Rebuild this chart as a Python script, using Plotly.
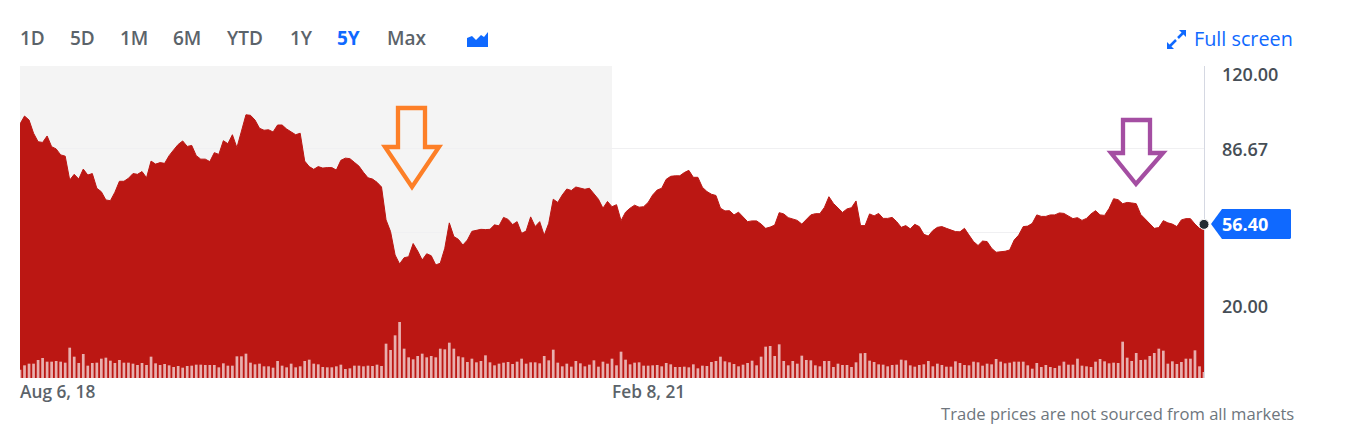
import pandas as pd
import plotly.graph_objects as go

# Weekly closing prices
prices = [
    96.7, 99.9, 98.3, 93.0, 89.6, 89.3, 91.9, 87.6, 86.7, 84.3,
    83.8, 74.2, 76.5, 74.6, 78.6, 76.2, 76.8, 70.9, 69.5, 66.2,
    65.9, 69.3, 73.7, 73.7, 74.9, 76.8, 76.5, 77.6, 75.1, 81.8,
    80.6, 81.2, 80.9, 84.0, 86.3, 88.5, 89.9, 87.7, 88.1, 84.0,
    82.6, 82.6, 81.6, 85.2, 84.5, 90.0, 88.8, 92.4, 87.2, 93.6,
    100.4, 100.2, 98.3, 95.0, 94.2, 94.4, 93.5, 96.3, 96.3, 94.7,
    93.5, 92.4, 93.0, 81.8, 79.6, 78.5, 79.6, 79.0, 79.2, 79.2,
    78.2, 82.1, 83.0, 82.8, 81.3, 79.8, 77.3, 75.1, 74.6, 73.3,
    71.4, 58.2, 53.5, 44.1, 40.5, 43.0, 43.4, 48.7, 45.7, 42.1,
    44.6, 43.8, 40.1, 40.8, 46.8, 57.0, 51.5, 50.4, 48.1, 50.1,
    53.6, 53.9, 54.4, 54.3, 54.4, 56.2, 55.8, 59.2, 58.4, 56.3,
    57.5, 52.8, 53.7, 59.4, 55.5, 57.5, 52.0, 56.8, 66.5, 65.2,
    68.2, 70.6, 70.0, 71.4, 70.8, 70.5, 70.9, 68.9, 66.5, 62.9,
    65.6, 63.5, 64.3, 57.9, 61.3, 62.9, 64.1, 63.3, 63.5, 65.2,
    68.2, 70.2, 70.9, 74.5, 75.7, 75.9, 75.9, 77.2, 78.1, 75.3,
    75.3, 71.3, 69.6, 68.5, 68.0, 62.9, 61.8, 61.9, 60.2, 61.3,
    59.5, 57.5, 57.8, 57.8, 56.5, 54.8, 55.3, 56.1, 61.1, 60.6,
    59.1, 58.4, 58.0, 56.5, 58.4, 60.2, 60.7, 60.7, 63.2, 67.5,
    64.8, 62.9, 61.2, 62.6, 63.1, 65.8, 55.9, 55.9, 60.6, 59.8,
    60.8, 58.8, 58.8, 59.2, 57.5, 55.2, 55.9, 54.6, 56.4, 55.5,
    52.4, 51.7, 53.9, 55.2, 55.5, 54.8, 54.3, 53.5, 53.4, 54.8,
    52.1, 49.5, 47.9, 49.7, 49.5, 46.8, 45.2, 45.3, 45.6, 46.1,
    50.1, 52.1, 55.5, 55.7, 56.8, 60.2, 59.6, 59.6, 60.2, 60.2,
    61.0, 60.8, 59.6, 58.7, 59.1, 58.0, 58.8, 60.6, 61.9, 60.2,
    60.0, 62.8, 66.7, 66.3, 64.7, 65.2, 65.0, 64.7, 60.4, 58.4,
    56.5, 54.8, 55.1, 57.9, 57.0, 56.5, 55.5, 58.2, 58.7, 58.7,
    56.5, 54.8, 56.4,
]

# Weekly volume (relative units)
volumes = [
    25, 38, 43, 43, 54, 60, 49, 49, 51, 49,
    46, 91, 64, 45, 72, 37, 45, 46, 58, 61,
    52, 45, 54, 46, 46, 43, 39, 45, 39, 64,
    44, 39, 42, 38, 33, 36, 31, 36, 37, 40,
    40, 39, 39, 39, 32, 44, 37, 37, 65, 65,
    73, 46, 41, 43, 35, 35, 31, 51, 37, 32,
    43, 32, 35, 51, 55, 43, 41, 33, 32, 32,
    35, 40, 27, 29, 37, 37, 35, 37, 36, 40,
    36, 103, 84, 128, 168, 88, 62, 56, 66, 73,
    62, 66, 62, 88, 86, 106, 88, 65, 62, 48,
    58, 47, 51, 68, 47, 38, 43, 46, 48, 42,
    49, 58, 43, 47, 47, 44, 66, 53, 85, 46,
    35, 43, 34, 51, 44, 35, 40, 53, 34, 49,
    43, 58, 38, 79, 55, 41, 46, 47, 37, 37,
    38, 39, 35, 45, 41, 33, 33, 34, 32, 41,
    29, 37, 36, 48, 51, 64, 50, 47, 42, 35,
    40, 45, 52, 38, 64, 94, 96, 66, 101, 51,
    38, 51, 43, 67, 54, 53, 38, 35, 51, 51,
    33, 43, 39, 39, 33, 47, 74, 75, 52, 48,
    41, 40, 35, 39, 40, 55, 53, 38, 34, 39,
    41, 51, 35, 43, 39, 34, 34, 50, 45, 39,
    38, 49, 47, 37, 43, 41, 57, 49, 44, 46,
    49, 49, 49, 38, 28, 45, 33, 39, 33, 30,
    37, 49, 40, 40, 58, 37, 35, 33, 49, 57,
    50, 44, 46, 45, 109, 61, 51, 75, 54, 55,
    66, 75, 88, 82, 43, 50, 42, 48, 58, 58,
    83, 35, 18,
]

assert len(prices) == len(volumes), (len(prices), len(volumes))

dates = pd.date_range("2018-08-06", periods=len(prices), freq="7D")
split_date = "2021-02-08"

range_labels = ["1D", "5D", "1M", "6M", "YTD", "1Y", "5Y", "Max"]
range_label_x = [20, 70, 120, 173, 227, 290, 337, 387]
price_ticks = [120, 86.67, 53.33, 20]

FONT = "Open Sans"
BLUE = "#0f69ff"
GREY = "#5b636a"
RED = "#bb1713"

# Pixel box of the plot area in the 1347x437 page
LEFT, RIGHT, TOP, BOTTOM = 20, 1204, 66, 378
Y_MAX = 120
Y_MIN = 120 - (BOTTOM - TOP) / 2.49


def px(x):
    return (x - LEFT) / (RIGHT - LEFT)


def py(y):
    return (BOTTOM - y) / (BOTTOM - TOP)


def path(points, close=True):
    d = "M " + " L ".join(f"{px(x)} {py(y)}" for x, y in points)
    return d + (" Z" if close else "")


def label(x, y, text, size=18, color=GREY, weight=600, anchor="left"):
    # annotations pad their text by about 2px
    nudge = -2 if anchor == "left" else 2
    return dict(
        x=px(x + nudge), y=py(y), xref="paper", yref="paper", text=text, showarrow=False,
        xanchor=anchor, yanchor="middle", align=anchor,
        font=dict(family=FONT, size=size, color=color, weight=weight),
    )


fig = go.Figure()

# Baseline at the bottom of the axis, so the area reaches the plot floor
fig.add_trace(go.Scatter(
    x=dates, y=[Y_MIN] * len(dates), mode="lines",
    line=dict(width=0), hoverinfo="skip", showlegend=False,
))
fig.add_trace(go.Scatter(
    x=dates, y=prices, mode="lines", fill="tonexty",
    fillcolor=RED, line=dict(color=RED, width=1), showlegend=False,
))
fig.add_trace(go.Bar(
    x=dates, y=volumes, yaxis="y2",
    marker=dict(color="rgba(255,255,255,0.66)", line=dict(width=0)),
    showlegend=False,
))
fig.add_trace(go.Scatter(
    x=dates[-1:], y=prices[-1:], mode="markers",
    marker=dict(size=10, color="#232a31", line=dict(color="white", width=1)),
    cliponaxis=False, showlegend=False,
))

annotations = []
for name, x in zip(range_labels, range_label_x):
    if name == "5Y":
        annotations.append(label(x, 38, name, size=19, color=BLUE, weight=700))
    else:
        annotations.append(label(x, 38, name, size=19))
annotations += [
    label(1194, 38.5, "Full screen", size=19.8, color=BLUE, weight=500),
    label(1222, 73.5, "120.00", color="#464e56"),
    label(1222, 148.5, "86.67", color="#464e56"),
    label(1222, 305.5, "20.00", color="#464e56"),
    label(1222, 223.5, "56.40", color="white", weight=700),
    label(20, 391.5, "Aug 6, 18", size=17.3),
    label(612, 391.5, "Feb 8, 21", size=17.3),
    label(1294, 413, "Trade prices are not sourced from all markets",
          size=16.6, color="#6e767d", weight=400, anchor="right"),
]

shapes = [
    # grey band for the earlier part of the range, over the gridlines but see-through
    dict(type="rect", xref="x", yref="paper", x0=dates[0], x1=split_date, y0=0, y1=1,
         fillcolor="rgba(0,0,0,0.045)", line=dict(width=0), layer="between"),
    # price tag
    dict(type="path", xref="paper", yref="paper", fillcolor=BLUE, line=dict(width=0),
         path=path([(1211, 224), (1222, 209), (1290, 209), (1291, 210), (1291, 238),
                    (1290, 239), (1222, 239)])),
    # hand-drawn arrows
    dict(type="path", xref="paper", yref="paper", line=dict(color="#fd7f27", width=4.3),
         path=path([(398, 108), (425, 108), (425, 147), (439, 147), (412, 187),
                    (385, 147), (398, 147)])),
    dict(type="path", xref="paper", yref="paper", line=dict(color="#a44ea2", width=4.3),
         path=path([(1123, 120), (1150, 120), (1150, 153), (1163, 153), (1136, 184),
                    (1111, 153), (1123, 153)])),
    # chart type icon
    dict(type="path", xref="paper", yref="paper", fillcolor=BLUE, line=dict(width=0),
         path=path([(467, 38), (472, 36), (476, 40), (481, 35), (484, 37), (488, 32),
                    (488, 47), (467, 47)])),
    # full screen icon
    dict(type="path", xref="paper", yref="paper", line=dict(color=BLUE, width=2.5),
         path=path([(1169, 47), (1176, 40)], close=False)),
    dict(type="path", xref="paper", yref="paper", line=dict(color=BLUE, width=2.5),
         path=path([(1178, 38), (1185, 31)], close=False)),
    dict(type="path", xref="paper", yref="paper", fillcolor=BLUE, line=dict(width=0),
         path=path([(1167, 42), (1167, 49), (1174, 49)])),
    dict(type="path", xref="paper", yref="paper", fillcolor=BLUE, line=dict(width=0),
         path=path([(1179, 30), (1186, 30), (1186, 37)])),
]

fig.update_layout(
    width=1347, height=437,
    margin=dict(l=LEFT, r=1347 - RIGHT, t=TOP, b=437 - BOTTOM),
    paper_bgcolor="white", plot_bgcolor="rgba(0,0,0,0)",
    bargap=0.4,
    showlegend=False,
    annotations=annotations,
    shapes=shapes,
    xaxis=dict(
        type="date", range=[dates[0], dates[-1]],
        showgrid=False, showticklabels=False, ticks="", zeroline=False,
    ),
    yaxis=dict(
        range=[Y_MIN, Y_MAX], side="right", tickvals=price_ticks,
        showticklabels=False, ticks="", zeroline=False,
        gridcolor="#f0f0f2", gridwidth=1,
        showline=True, linecolor="#d5d8e2", linewidth=1, layer="below traces",
    ),
    yaxis2=dict(
        overlaying="y", range=[0, 3 * (BOTTOM - TOP)], visible=False, fixedrange=True,
    ),
)

fig.write_html(
    "out.html",
    config=dict(displayModeBar=False),
    post_script="document.body.style.margin='0';",
)
